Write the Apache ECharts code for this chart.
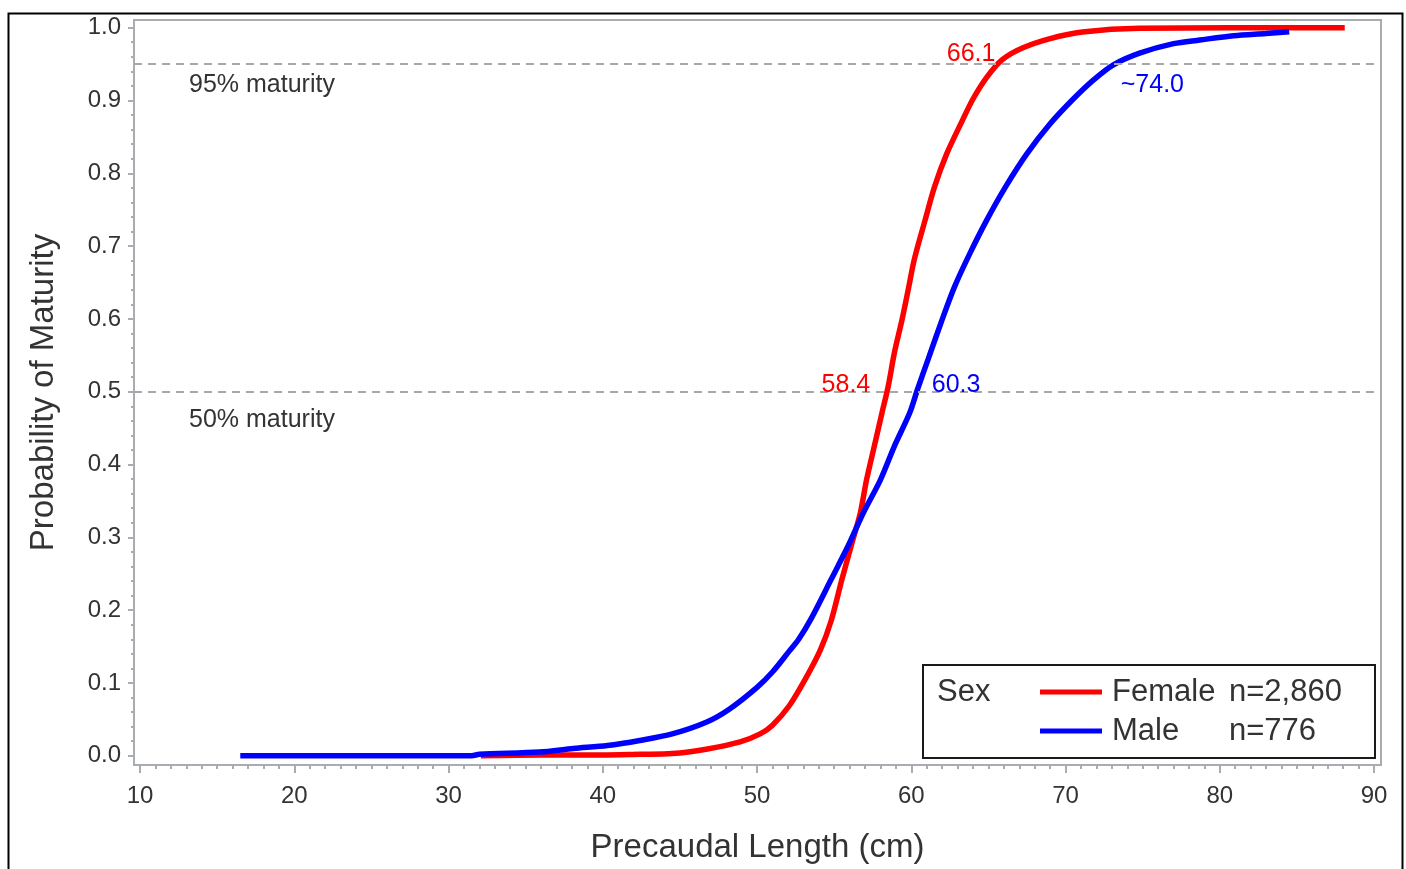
<!DOCTYPE html>
<html><head><meta charset="utf-8">
<script src="https://cdn.jsdelivr.net/npm/echarts@6/dist/echarts.min.js"></script>
<style>html,body{margin:0;padding:0;background:#fff}#c{width:1406px;height:869px}</style>
</head><body><div id="c"></div>
<script>
// ---- data ----
const femaleLength = [32.1, 36.0, 40.0, 42.4, 44.5, 46.7, 48.9, 50.2, 51.0, 52.1, 53.2, 54.1, 54.8, 55.5, 56.1, 56.7, 57.1, 57.6, 58.1, 58.5, 58.9, 59.4, 59.8, 60.2, 60.9, 61.5, 62.3, 63.3, 64.0, 64.9, 65.9, 67.2, 69.0, 71.1, 74.8, 88.1];
const femaleProb   = [0.000, 0.001, 0.001, 0.002, 0.003, 0.009, 0.019, 0.030, 0.042, 0.069, 0.108, 0.145, 0.185, 0.242, 0.288, 0.334, 0.379, 0.425, 0.471, 0.507, 0.553, 0.599, 0.640, 0.682, 0.736, 0.781, 0.827, 0.872, 0.902, 0.932, 0.956, 0.972, 0.985, 0.994, 0.999, 1.000];
const maleLength = [16.5, 31.5, 32.0, 35.9, 38.1, 40.3, 42.4, 44.5, 46.7, 48.2, 50.0, 51.0, 52.1, 52.7, 53.5, 54.8, 55.9, 56.9, 58.0, 58.9, 59.9, 60.4, 61.1, 62.0, 62.8, 63.8, 64.9, 66.1, 67.5, 69.0, 70.5, 71.8, 73.1, 74.8, 77.0, 78.7, 80.9, 83.0, 84.5];
const maleProb   = [0.000, 0.000, 0.002, 0.005, 0.010, 0.014, 0.021, 0.030, 0.046, 0.064, 0.094, 0.115, 0.144, 0.160, 0.188, 0.242, 0.288, 0.334, 0.379, 0.425, 0.471, 0.503, 0.545, 0.599, 0.644, 0.690, 0.736, 0.781, 0.827, 0.868, 0.902, 0.928, 0.949, 0.965, 0.978, 0.983, 0.989, 0.992, 0.9945];
const xTicks = [10, 20, 30, 40, 50, 60, 70, 80, 90];
const yTicks = [0.0, 0.1, 0.2, 0.3, 0.4, 0.5, 0.6, 0.7, 0.8, 0.9, 1.0];
const refLevels = [0.95, 0.5];
const refLabels = ['95% maturity', '50% maturity'];
const femaleNotes = ['66.1', '58.4'];
const maleNotes = ['~74.0', '60.3'];
const legendNames = ['Female', 'Male'];
const legendCounts = ['n=2,860', 'n=776'];
const legendTitle = 'Sex';
const xTitle = 'Precaudal Length (cm)';
const yTitle = 'Probability of Maturity';

// ---- chart ----
const FONT = '"Liberation Sans", Arial, sans-serif';
const GRAY = '#a9adb1';
const TXT = '#333333';
const xMinor = []; for (let v = 11; v < 90; v++) if (v % 10) xMinor.push(v);
const yMinor = []; for (let i = 1; i < 50; i++) if (i % 5) yMinor.push(+(i * 0.02).toFixed(2));
const zip = (a, b) => a.map((v, i) => [v, b[i]]);
const X0 = 9.61, X1 = 90.45, Y0 = -0.0127, Y1 = 1.0105;

const noteLabel = (name, coord, pos, color) => ({
  name, coord, symbolSize: 1, itemStyle: {color: 'rgba(0,0,0,0)'},
  label: {show: true, position: pos, distance: 0, formatter: '{b}', color, fontFamily: FONT, fontSize: 25}
});

const chart = echarts.init(document.getElementById('c'), null, {renderer: 'canvas'});
chart.setOption({
  animation: false,
  backgroundColor: '#fff',
  grid: {left: 134, right: 25, top: 20, bottom: 102, show: true, borderColor: GRAY, borderWidth: 2, backgroundColor: 'transparent'},
  xAxis: [
    {type: 'value', min: X0, max: X1, position: 'bottom',
     name: xTitle, nameLocation: 'middle', nameGap: 66,
     nameTextStyle: {fontFamily: FONT, fontSize: 33, color: TXT},
     axisLine: {show: true, onZero: false, lineStyle: {color: GRAY, width: 2}},
     axisTick: {show: true, customValues: xTicks, length: 8, lineStyle: {color: GRAY, width: 2}},
     axisLabel: {show: true, customValues: xTicks, margin: 19, fontFamily: FONT, fontSize: 24, color: TXT},
     splitLine: {show: false}},
    {type: 'value', min: X0, max: X1, position: 'bottom', offset: 0,
     axisLine: {show: false, onZero: false}, axisLabel: {show: false}, splitLine: {show: false},
     axisTick: {show: true, customValues: xMinor, length: 4, lineStyle: {color: GRAY, width: 2}}}
  ],
  yAxis: [
    {type: 'value', min: Y0, max: Y1, position: 'left',
     name: yTitle, nameLocation: 'middle', nameGap: 74,
     nameTextStyle: {fontFamily: FONT, fontSize: 33, color: TXT},
     axisLine: {show: true, onZero: false, lineStyle: {color: GRAY, width: 2}},
     axisTick: {show: true, customValues: yTicks, length: 6, lineStyle: {color: GRAY, width: 2}},
     axisLabel: {show: true, customValues: yTicks, margin: 13, fontFamily: FONT, fontSize: 24, color: TXT,
                 formatter: v => v.toFixed(1)},
     splitLine: {show: false}},
    {type: 'value', min: Y0, max: Y1, position: 'left', offset: 0,
     axisLine: {show: false, onZero: false}, axisLabel: {show: false}, splitLine: {show: false},
     axisTick: {show: true, customValues: yMinor, length: 3, lineStyle: {color: GRAY, width: 2}}}
  ],
  legend: {
    data: legendNames, orient: 'vertical', left: 1040, top: 675, padding: 0,
    itemWidth: 62, itemHeight: 5, itemGap: 5, icon: 'rect', selectedMode: false,
    formatter: name => `{s| }{a|${name}}{b|${legendCounts[legendNames.indexOf(name)]}}`,
    textStyle: {fontFamily: FONT, fontSize: 31, color: TXT, lineHeight: 34,
      rich: {s: {width: 5, fontSize: 31, fontFamily: FONT}, a: {width: 117, fontSize: 31, fontFamily: FONT, color: TXT}, b: {fontSize: 31, fontFamily: FONT, color: TXT}}}
  },
  graphic: [
    {type: 'rect', left: 6, top: 11, shape: {x: 0, y: 0, width: 1394, height: 880}, style: {fill: 'none', stroke: '#000', lineWidth: 2}, silent: true},
    {type: 'rect', shape: {x: 923, y: 665, width: 452, height: 93}, style: {fill: 'none', stroke: '#1a1a1a', lineWidth: 2}, silent: true},
    {type: 'text', x: 937, y: 692, style: {text: legendTitle, fontFamily: FONT, fontSize: 31, fill: TXT, verticalAlign: 'middle'}, silent: true}
  ],
  series: [
    {type: 'line', name: 'ref', data: [], z: 1, silent: true,
     markLine: {silent: true, symbol: ['none', 'none'], label: {show: false},
       lineStyle: {color: '#a8a8a8', type: [8, 6], width: 2},
       data: refLevels.map(v => ({yAxis: v}))},
     markPoint: {silent: true, data: [
       noteLabel(refLabels[0], [13.16, 0.921], 'right', TXT),
       noteLabel(refLabels[1], [13.16, 0.461], 'right', TXT)
     ]}},
    {type: 'line', name: legendNames[0], data: zip(femaleLength, femaleProb), z: 3,
     smooth: 0.3,
     showSymbol: false, symbol: 'none', color: '#ff0000', lineStyle: {color: '#ff0000', width: 5.5},
     markPoint: {silent: true, data: [
       noteLabel(femaleNotes[0], [62.28, 0.9637], 'right', '#ff0000'),
       noteLabel(femaleNotes[1], [57.36, 0.5085], 'left', '#ff0000')
     ]}},
    {type: 'line', name: legendNames[1], data: zip(maleLength, maleProb), z: 4,
     smooth: 0.3,
     showSymbol: false, symbol: 'none', color: '#0000ff', lineStyle: {color: '#0000ff', width: 5.5},
     markPoint: {silent: true, data: [
       noteLabel(maleNotes[0], [73.56, 0.921], 'right', '#0000ff'),
       noteLabel(maleNotes[1], [61.31, 0.5085], 'right', '#0000ff')
     ]}}
  ]
});
</script></body></html>
